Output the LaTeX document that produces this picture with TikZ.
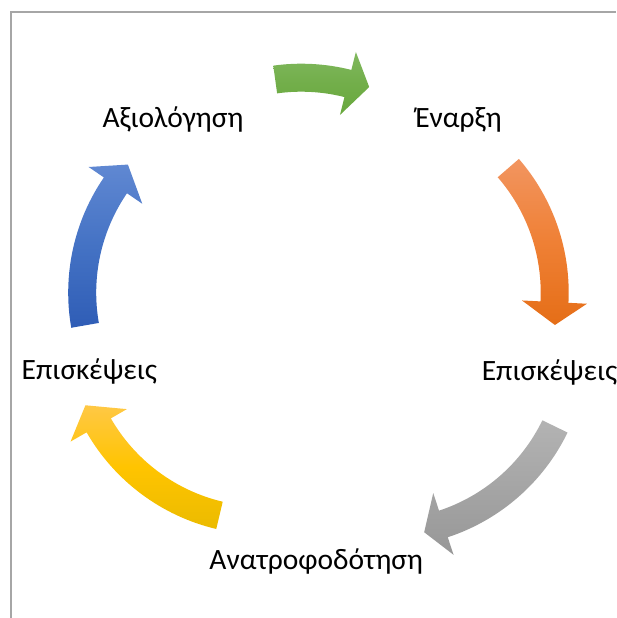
\documentclass[tikz,border=0pt]{standalone}
\usepackage{fontspec}
\setmainfont{Carlito}
\usepackage{tikz}
\usetikzlibrary{positioning}

\definecolor{topgrn}{HTML}{80B85E}
\definecolor{midgrn}{HTML}{72AE4A}
\definecolor{botgrn}{HTML}{68A83D}
\definecolor{toporng}{HTML}{F29560}
\definecolor{midorng}{HTML}{EF8035}
\definecolor{botorng}{HTML}{E56E17}
\definecolor{topgry}{HTML}{B3B3B3}
\definecolor{midgry}{HTML}{A5A5A5}
\definecolor{botgry}{HTML}{979797}
\definecolor{topylw}{HTML}{FFC845}
\definecolor{midylw}{HTML}{FFC400}
\definecolor{botylw}{HTML}{EBBB00}
\definecolor{topblu}{HTML}{6088D2}
\definecolor{midblu}{HTML}{4472C4}
\definecolor{botblu}{HTML}{2F5DB6}

\begin{document}
\begin{tikzpicture}[x=1pt, y=1pt,
                          labelnode/.style={inner sep=0pt, anchor=base, font=\fontsize{29.5}{35}\selectfont},
                          framelines/.style={draw=black!35, line width=1.5pt},
                      ]
                      \useasboundingbox (0,0) rectangle (616,618);

                      %Frame
                      \draw[framelines] (10.8,0) -- (10.8,606) -- (616,606);

                      %Nodes
                      \node[labelnode]    (evaluation)   at (173,490.5)   {Αξιολόγηση};
                      \node[labelnode]    (start)        at (458.5,490)   {Έναρξη};
                      \node[labelnode]    (visits_r)     at (549.5,237)   {Επισκέψεις};
                      \node[labelnode]    (feedback)     at (316.2,48.5)  {Ανατροφοδότηση};
                      \node[labelnode]    (visits_l)     at (89.4,238)    {Επισκέψεις};

                      %Arrows
                      \foreach \cx/\cy/\sa/\ea/\ta/\col in {301.3/350.3/97.9/75.8/69.4/grn,
                                                           364.7/325.5/40.9/-2.9/-9.7/orng,
                                                           384.05/274.55/-25.9/-71.8/-78.0/gry,
                                                           263.35/287.5/-103.35/-150.05/-157.2/ylw,
                                                           272.2/325.3/189.9/145.6/138.4/blu}
                          \shade[top color=top\col, bottom color=bot\col, middle color=mid\col, shift={(\cx,\cy)}]
                              (\sa:204) arc[start angle=\sa, end angle=\ea, radius=204]
                              -- (\ea:222.5) -- (\ta:193) -- (\ea:157.5) -- (\ea:176)
                              arc[start angle=\ea, end angle=\sa, radius=176] -- cycle;
                  \end{tikzpicture}
\end{document}
